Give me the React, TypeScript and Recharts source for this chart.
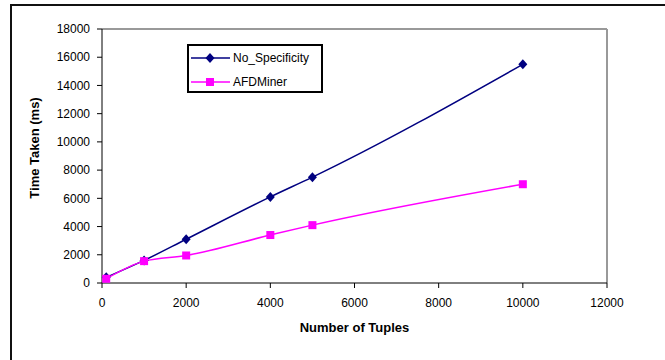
import React from 'react';
import { LineChart, Line, XAxis, YAxis, Legend, ReferenceLine, Label } from 'recharts';

const tuples = [100, 1000, 2000, 4000, 5000, 10000];
const noSpecificity = [400, 1600, 3100, 6100, 7500, 15500];
const afdMiner = [300, 1550, 1950, 3400, 4100, 7000];
const xTicks = [0, 2000, 4000, 6000, 8000, 10000, 12000];
const yTicks = [0, 2000, 4000, 6000, 8000, 10000, 12000, 14000, 16000, 18000];
const legendOrder = ['noSpec', 'afd'];

const data = tuples.map((x, i) => ({ x, noSpec: noSpecificity[i], afd: afdMiner[i] }));

const NAVY = '#000080';
const PINK = '#FF00FF';
const FONT = '"Liberation Sans", Arial, sans-serif';

const Diamond = (props: any) => {
  const { cx, cy } = props;
  if (cx == null || cy == null) return null;
  return <polygon points={`${cx},${cy - 5} ${cx + 4.5},${cy} ${cx},${cy + 5} ${cx - 4.5},${cy}`} fill={NAVY} />;
};

const Square = (props: any) => {
  const { cx, cy } = props;
  if (cx == null || cy == null) return null;
  return <rect x={cx - 4} y={cy - 4} width={8} height={8} fill={PINK} />;
};

const LegendBox = (props: any) => {
  const items = [...(props.payload || [])].sort(
    (a: any, b: any) => legendOrder.indexOf(a.dataKey) - legendOrder.indexOf(b.dataKey)
  );
  return (
    <div style={{ border: '2px solid #000', background: '#fff', width: 132, height: 45, boxSizing: 'content-box', fontFamily: FONT, fontSize: 12, color: '#000' }}>
      {items.map((p: any, i: number) => {
        const isNavy = p.dataKey === 'noSpec';
        return (
          <div key={i} style={{ display: 'flex', alignItems: 'center', height: 22, marginTop: i === 0 ? 1 : 2 }}>
            <svg width={44} height={12} style={{ display: 'block' }}>
              <line x1={2} y1={6} x2={41} y2={6} stroke={p.color} strokeWidth={1.5} />
              {isNavy ? (
                <polygon points="21,1 25.5,6 21,11 16.5,6" fill={NAVY} />
              ) : (
                <rect x={17} y={2} width={8} height={8} fill={PINK} />
              )}
            </svg>
            <span>{p.value}</span>
          </div>
        );
      })}
    </div>
  );
};

export default function App() {
  return (
    <div style={{ position: 'absolute', left: 0, top: 0, width: 665, height: 360, background: '#fff' }}>
      <div style={{ position: 'absolute', left: 10, top: 4, width: 700, height: 354, borderTop: '2px solid #111', borderLeft: '2px solid #111', borderBottom: '1px solid #bbb' }} />
      <div style={{ position: 'absolute', left: 0, top: 0 }}>
        <LineChart width={665} height={360} data={data} margin={{ top: 29, right: 58, bottom: 47, left: 0 }}>
          <ReferenceLine y={18000} stroke="#999" strokeWidth={2} />
          <ReferenceLine x={12000} stroke="#999" strokeWidth={2} />
          <XAxis
            dataKey="x"
            type="number"
            domain={[0, 12000]}
            ticks={xTicks}
            interval={0}
            height={30}
            stroke="#000"
            tickSize={5}
            tickMargin={10}
            tick={{ fill: '#000', fontSize: 12, fontFamily: FONT }}
          >
            <Label
              value="Number of Tuples"
              position="bottom"
              offset={10}
              style={{ fontFamily: FONT, fontSize: 13, fontWeight: 'bold', fill: '#000' }}
            />
          </XAxis>
          <YAxis
            type="number"
            domain={[0, 18000]}
            ticks={yTicks}
            interval={0}
            width={102}
            stroke="#000"
            tickSize={5}
            tickMargin={7}
            tick={{ fill: '#000', fontSize: 12, fontFamily: FONT }}
          >
            <Label
              content={(lp: any) => {
                const vb = lp.viewBox || {};
                const cx = 34;
                const cy = (vb.y || 0) + (vb.height || 0) / 2 - 8;
                return (
                  <text
                    x={cx}
                    y={cy}
                    transform={`rotate(-90 ${cx} ${cy})`}
                    textAnchor="middle"
                    dominantBaseline="central"
                    style={{ fontFamily: FONT, fontSize: 13, fontWeight: 'bold', fill: '#000' }}
                  >
                    Time Taken (ms)
                  </text>
                );
              }}
            />
          </YAxis>
          <Legend
            content={<LegendBox />}
            layout="vertical"
            verticalAlign="middle"
            align="center"
            wrapperStyle={{ position: 'absolute', left: 187, top: 44, width: 'auto' }}
          />
          <Line
            dataKey="noSpec"
            name="No_Specificity"
            type="monotone"
            stroke={NAVY}
            strokeWidth={1.5}
            dot={<Diamond />}
            activeDot={false}
            isAnimationActive={false}
          />
          <Line
            dataKey="afd"
            name="AFDMiner"
            type="monotone"
            stroke={PINK}
            strokeWidth={1.5}
            dot={<Square />}
            activeDot={false}
            isAnimationActive={false}
          />
        </LineChart>
      </div>
    </div>
  );
}
